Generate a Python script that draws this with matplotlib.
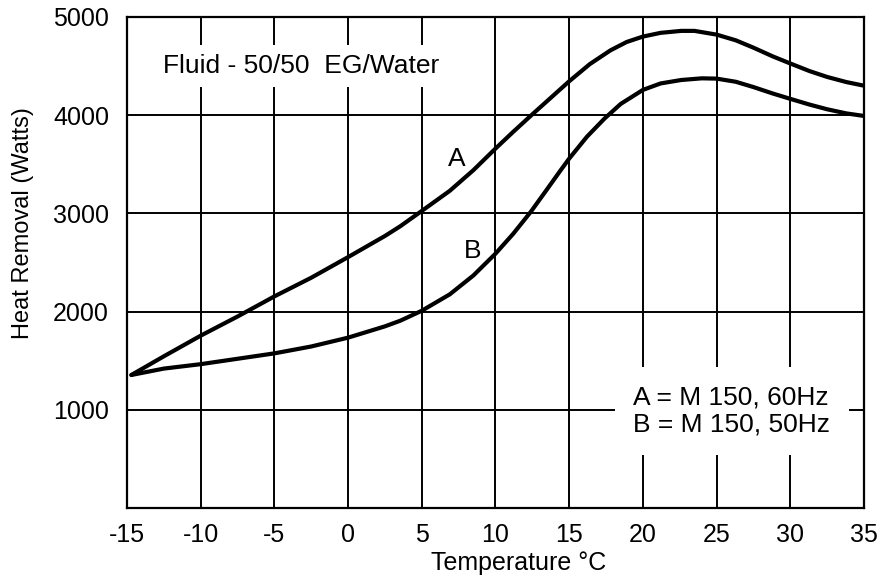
import matplotlib
matplotlib.use('Agg')
import matplotlib.pyplot as plt

plt.rcParams['font.family'] = ['Liberation Sans', 'DejaVu Sans']
plt.rcParams['axes.unicode_minus'] = False

# Curve A (M 150, 60Hz)
temp_a = [-14.7, -12.5, -10, -7.5, -5, -2.5, 0, 2.5, 3.55, 5, 6.9, 8.5, 10,
          11.2, 12.4, 13.7, 15, 16.4, 17.8, 18.9, 20, 21.2, 22.6, 23.5, 25,
          26.3, 27.5, 28.8, 30, 31.3, 32.5, 33.8, 35]
heat_a = [1355, 1545, 1755, 1950, 2155, 2345, 2555, 2770, 2870, 3025, 3230,
          3440, 3660, 3830, 3995, 4170, 4345, 4520, 4660, 4745, 4800, 4838,
          4858, 4858, 4820, 4762, 4687, 4599, 4526, 4449, 4389, 4337, 4300]

# Curve B (M 150, 50Hz)
temp_b = [-14.7, -12.5, -10, -7.5, -5, -2.5, 0, 2.5, 3.55, 5, 6.9, 8.5, 10,
          11.2, 12.4, 13.5, 14.4, 15, 16.2, 17.4, 18.5, 20, 21.2, 22.6, 24,
          25, 26.3, 27.5, 28.8, 30, 31.3, 32.5, 33.8, 35]
heat_b = [1355, 1420, 1465, 1520, 1575, 1645, 1735, 1850, 1908, 2009, 2176,
          2368, 2590, 2792, 3017, 3246, 3435, 3558, 3780, 3966, 4115, 4257,
          4323, 4358, 4375, 4372, 4340, 4286, 4221, 4166, 4108, 4060, 4018,
          3992]

x_ticks = [-15, -10, -5, 0, 5, 10, 15, 20, 25, 30, 35]
y_ticks = [1000, 2000, 3000, 4000, 5000]

fig = plt.figure(figsize=(8.96, 5.84), dpi=100)
ax = fig.add_axes([0.1417, 0.130, 0.8226, 0.841])

for tx, hy in [(temp_a, heat_a), (temp_b, heat_b)]:
    ax.plot(tx, hy, color='black', lw=3.0, solid_capstyle='round',
            solid_joinstyle='round', zorder=3)

ax.set_xlim(-15, 35)
ax.set_ylim(0, 5000)
ax.set_xticks(x_ticks)
ax.set_yticks(y_ticks)
ax.tick_params(length=0, labelsize=18)
ax.tick_params(axis='x', pad=11)
ax.tick_params(axis='y', pad=13)
ax.grid(True, color='black', lw=1.4)
ax.set_axisbelow(True)
for s in ax.spines.values():
    s.set_linewidth(1.6)

ax.set_xlabel('Temperature °C', fontsize=18)
ax.xaxis.set_label_coords(0.532, -0.088)
ax.set_ylabel('Heat Removal (Watts)', fontsize=17)
ax.yaxis.set_label_coords(-0.126, 0.58)

ax.text(-12.55, 4431, 'Fluid - 50/50  EG/Water', fontsize=19, ha='left',
        va='baseline', zorder=4,
        bbox=dict(boxstyle='square,pad=0.35', fc='white', ec='none'))
ax.text(19.35, 990, 'A = M 150, 60Hz\nB = M 150, 50Hz', fontsize=19,
        ha='left', va='center', linespacing=1.15, zorder=4,
        bbox=dict(boxstyle='square,pad=0.7', fc='white', ec='none'))

ax.text(7.4, 3557, 'A', fontsize=19, ha='center', va='center', zorder=4)
ax.text(8.42, 2622, 'B', fontsize=19, ha='center', va='center', zorder=4)

fig.savefig('out.png', dpi=100)
